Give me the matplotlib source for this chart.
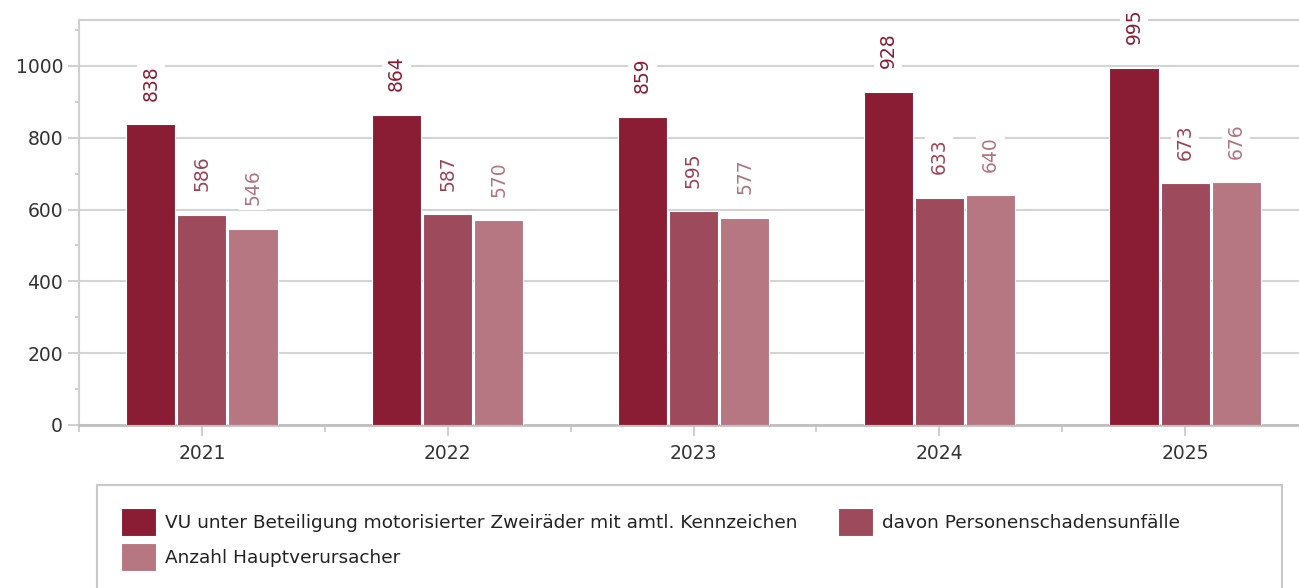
import matplotlib.pyplot as plt
from matplotlib.patches import Rectangle
import numpy as np

years = ["2021", "2022", "2023", "2024", "2025"]
vu_total = [838, 864, 859, 928, 995]
personenschaden = [586, 587, 595, 633, 673]
hauptverursacher = [546, 570, 577, 640, 676]

series_names = ["VU unter Beteiligung motorisierter Zweiräder mit amtl. Kennzeichen",
                "davon Personenschadensunfälle",
                "Anzahl Hauptverursacher"]
colors = ["#8a1c33", "#9d4a5c", "#b77782"]
text_colors = ["#8a1c33", "#9a4456", "#b07480"]

plt.rcParams['font.family'] = ['DejaVu Sans']

fig = plt.figure(figsize=(12.99, 5.88), dpi=100)
ax = fig.add_axes([79/1299, 163/588, 1229/1299, 405/588])

x = np.arange(len(years))
w = 0.2
step = 0.208
bars = []
for i, vals in enumerate([vu_total, personenschaden, hauptverursacher]):
    b = ax.bar(x + (i - 1) * step, vals, width=w, color=colors[i],
               edgecolor="white", linewidth=0.8, zorder=3, label=series_names[i])
    bars.append(b)
    for xi, v in zip(x, vals):
        ax.annotate(str(v), (xi + (i - 1) * step, v), xytext=(0, 17),
                    textcoords="offset points", rotation=90, ha="center", va="bottom",
                    fontsize=13.5, color=text_colors[i], zorder=4,
                    bbox=dict(boxstyle="square,pad=0.25", fc="white", ec="none"))

ax.set_xlim(-0.5, 4.5)
ax.set_ylim(0, 1128)
ax.set_yticks(range(0, 1001, 200))
ax.set_yticks(range(100, 1101, 200), minor=True)
ax.set_xticks(x)
ax.set_xticks(np.arange(-0.5, 4.6, 1), minor=True)
ax.set_xticklabels(years)
ax.tick_params(axis="both", which="both", labelsize=13.5, labelcolor="#333333", color="#c8c8c8")
ax.tick_params(axis="y", which="major", length=8, width=1.2)
ax.tick_params(axis="y", which="minor", length=3, width=1.2)
ax.tick_params(axis="x", which="major", length=8, width=1.2, pad=6)
ax.tick_params(axis="x", which="minor", length=5, width=1.2)
ax.yaxis.grid(True, color="#d4d4d4", linewidth=1.5, zorder=0)
for s in ["left", "top", "right"]:
    ax.spines[s].set_color("#d0d0d0")
    ax.spines[s].set_linewidth(1.5)
ax.spines["bottom"].set_color("#c0c0c0")
ax.spines["bottom"].set_linewidth(2)

# legend frame
fig.patches.append(Rectangle((97/1299, -0.05), (1282-97)/1299, (588-485)/588 + 0.05,
                             transform=fig.transFigure, fill=False,
                             edgecolor="#c8c8c8", linewidth=1.5))
handles = [bars[0], bars[2], bars[1]]
labels = [series_names[0], series_names[2], series_names[1]]
fig.legend(handles, labels, ncol=2, loc="upper left",
           bbox_to_anchor=(104/1299, 1 - 491/588), frameon=False,
           fontsize=13.3, handlelength=1.9, handleheight=2.0, handletextpad=0.5,
           columnspacing=2.2, labelspacing=0.35, labelcolor="#222222")

fig.savefig("out.png", dpi=100)
